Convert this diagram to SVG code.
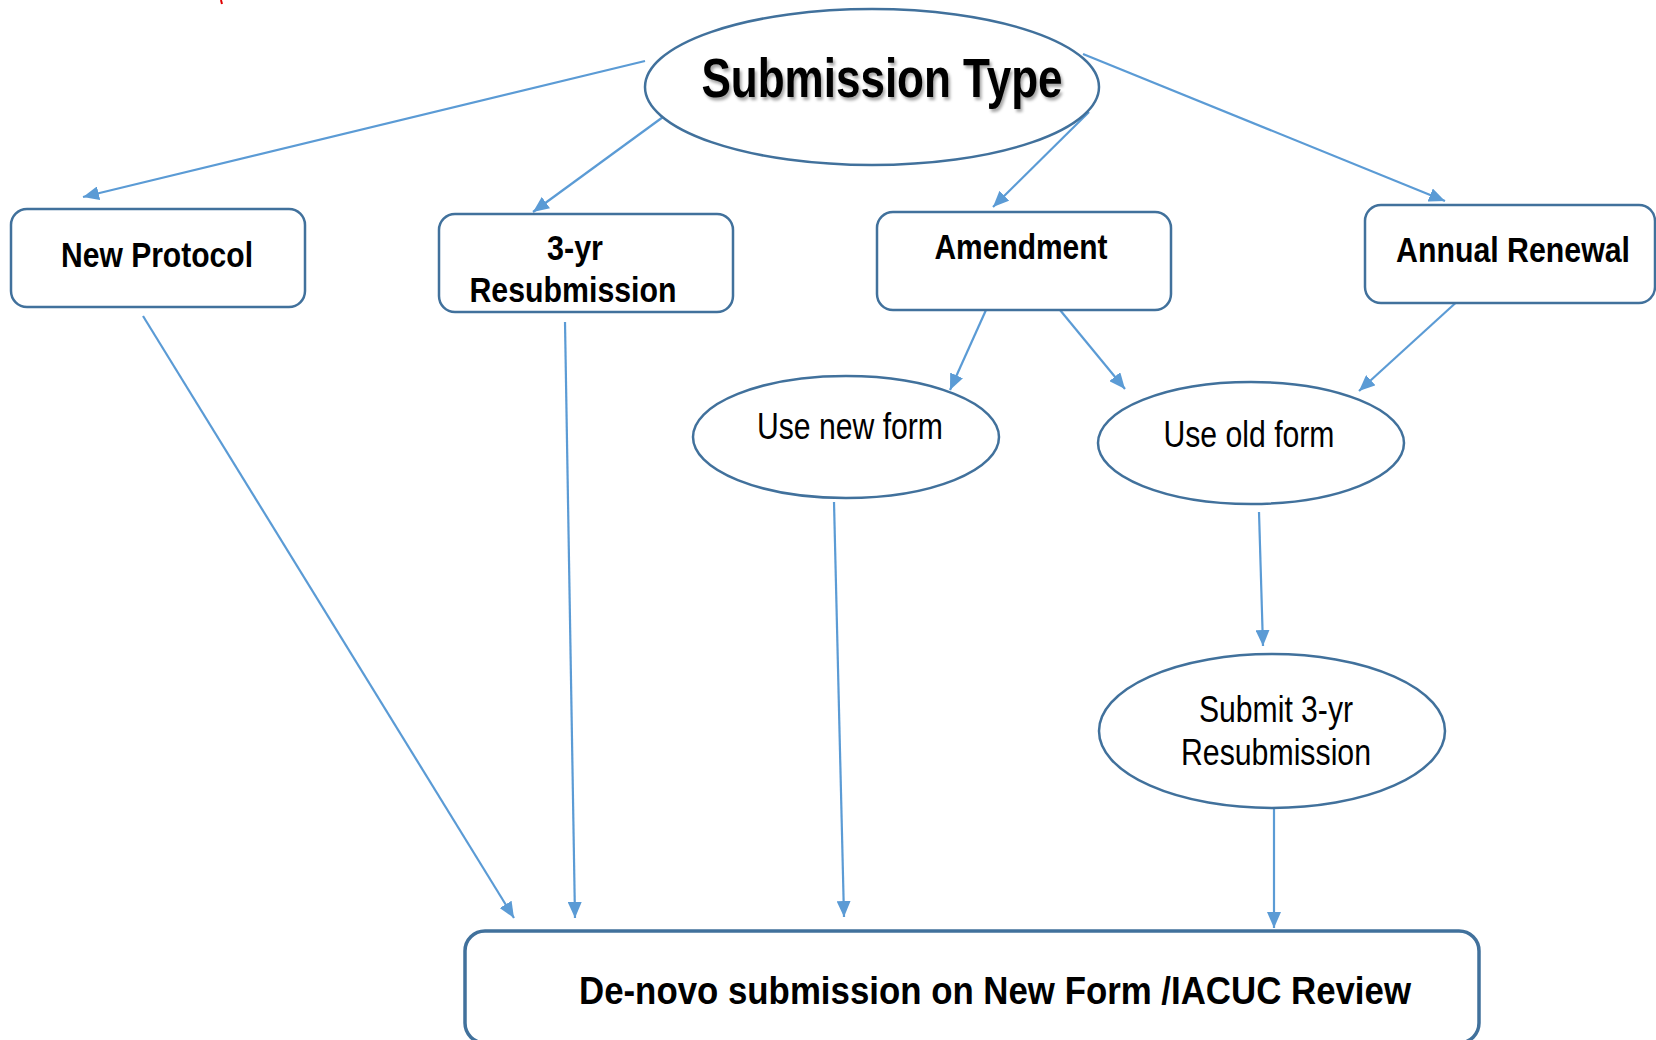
<svg xmlns="http://www.w3.org/2000/svg" width="1656" height="1040" viewBox="0 0 1656 1040">
<style>
.node{fill:#ffffff;stroke:#41719C;stroke-width:2.5}
.b{font-family:"Liberation Sans",Arial,sans-serif;font-weight:bold;fill:#000;text-anchor:middle}
.r{font-family:"Liberation Sans",Arial,sans-serif;fill:#000;text-anchor:middle}
.c{fill:none;stroke:#5B9BD5;stroke-width:2.2}
</style>
<defs>
<marker id="ah" markerUnits="userSpaceOnUse" markerWidth="18" markerHeight="14" refX="16" refY="7" orient="auto">
<path d="M0,0 L16,7 L0,14 Z" fill="#5B9BD5"/>
</marker>
<filter id="sh" x="-10%" y="-30%" width="120%" height="160%">
<feDropShadow dx="2" dy="3" stdDeviation="1.5" flood-color="#000" flood-opacity="0.35"/>
</filter>
</defs>
<rect width="1656" height="1040" fill="#ffffff"/>
<line x1="221" y1="0" x2="222" y2="4" stroke="#e00000" stroke-width="2"/>
<g id="connectors">
<line class="c" x1="645" y1="61" x2="83" y2="197" marker-end="url(#ah)"/>
<line class="c" x1="663" y1="117" x2="533" y2="212" marker-end="url(#ah)"/>
<line class="c" x1="1089" y1="112" x2="993" y2="207" marker-end="url(#ah)"/>
<line class="c" x1="1083" y1="54" x2="1445" y2="201" marker-end="url(#ah)"/>
<line class="c" x1="986" y1="310" x2="950" y2="390" marker-end="url(#ah)"/>
<line class="c" x1="1060" y1="310" x2="1125" y2="389" marker-end="url(#ah)"/>
<line class="c" x1="1461" y1="298" x2="1359" y2="391" marker-end="url(#ah)"/>
<line class="c" x1="143" y1="316" x2="514" y2="918" marker-end="url(#ah)"/>
<line class="c" x1="565" y1="322" x2="575" y2="918" marker-end="url(#ah)"/>
<line class="c" x1="834" y1="502" x2="844" y2="917" marker-end="url(#ah)"/>
<line class="c" x1="1259" y1="512" x2="1263" y2="646" marker-end="url(#ah)"/>
<line class="c" x1="1274" y1="808" x2="1274" y2="928" marker-end="url(#ah)"/>
</g>
<g id="submission-type">
<ellipse class="node" cx="872" cy="87" rx="227" ry="78"/>
<text class="b" x="882" y="97" font-size="56" textLength="361" lengthAdjust="spacingAndGlyphs" filter="url(#sh)">Submission Type</text>
</g>
<g id="new-protocol">
<rect class="node" x="11" y="209" width="294" height="98" rx="16"/>
<text class="b" x="157" y="267" font-size="35" textLength="192" lengthAdjust="spacingAndGlyphs">New Protocol</text>
</g>
<g id="three-yr-resubmission">
<rect class="node" x="439" y="214" width="294" height="98" rx="16"/>
<text class="b" x="575" y="260" font-size="35" textLength="56" lengthAdjust="spacingAndGlyphs">3-yr</text>
<text class="b" x="573" y="302" font-size="35" textLength="207" lengthAdjust="spacingAndGlyphs">Resubmission</text>
</g>
<g id="amendment">
<rect class="node" x="877" y="212" width="294" height="98" rx="16"/>
<text class="b" x="1021" y="259" font-size="35" textLength="173" lengthAdjust="spacingAndGlyphs">Amendment</text>
</g>
<g id="annual-renewal">
<rect class="node" x="1365" y="205" width="290" height="98" rx="16"/>
<text class="b" x="1513" y="262" font-size="35" textLength="234" lengthAdjust="spacingAndGlyphs">Annual Renewal</text>
</g>
<g id="use-new-form">
<ellipse class="node" cx="846" cy="437" rx="153" ry="61"/>
<text class="r" x="850" y="439" font-size="36" textLength="186" lengthAdjust="spacingAndGlyphs">Use new form</text>
</g>
<g id="use-old-form">
<ellipse class="node" cx="1251" cy="443" rx="153" ry="61"/>
<text class="r" x="1249" y="447" font-size="36" textLength="171" lengthAdjust="spacingAndGlyphs">Use old form</text>
</g>
<g id="submit-3yr">
<ellipse class="node" cx="1272" cy="731" rx="173" ry="77"/>
<text class="r" x="1276" y="722" font-size="36" textLength="154" lengthAdjust="spacingAndGlyphs">Submit 3-yr</text>
<text class="r" x="1276" y="765" font-size="36" textLength="190" lengthAdjust="spacingAndGlyphs">Resubmission</text>
</g>
<g id="de-novo">
<rect class="node" x="465" y="931" width="1014" height="112" rx="20" style="stroke-width:3.5"/>
<text class="b" x="995" y="1004" font-size="39" textLength="832" lengthAdjust="spacingAndGlyphs">De-novo submission on New Form /IACUC Review</text>
</g>
</svg>
